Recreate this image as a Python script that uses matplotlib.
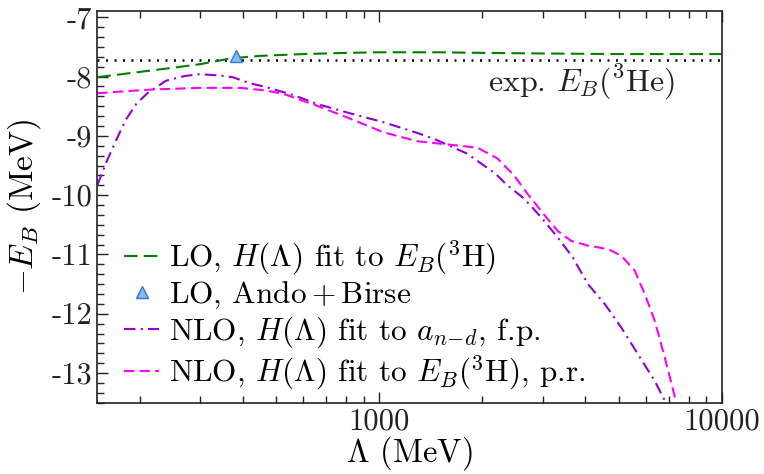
import numpy as np
import matplotlib
matplotlib.use("Agg")
import matplotlib.pyplot as plt
from matplotlib.ticker import FixedLocator, FixedFormatter, MultipleLocator, NullFormatter, LogLocator

plt.rcParams['font.family'] = 'cmr10'
plt.rcParams['mathtext.fontset'] = 'cm'
plt.rcParams['axes.unicode_minus'] = False
plt.rcParams['axes.formatter.use_mathtext'] = True

# ---- data ----
exp_he3 = -7.718

lam_lo = [150, 200, 250, 300, 370, 450, 600, 800, 1000, 1500, 2000, 3000, 5000, 7000, 10000]
eb_lo = [-8.01, -7.92, -7.85, -7.79, -7.69, -7.65, -7.62, -7.60, -7.59, -7.59, -7.60, -7.61, -7.62, -7.62, -7.62]

lam_ab = [380]
eb_ab = [-7.65]

lam_fp = [150, 160, 170, 182, 195, 210, 238, 270, 298, 340, 373, 418, 468, 560, 657, 822,
          1029, 1290, 1444, 1806, 2187, 2340, 2650, 2966, 3316, 3673, 4066, 4548, 5087, 5693,
          6368, 6815, 7100]
eb_fp = [-9.83, -9.42, -9.08, -8.72, -8.46, -8.28, -8.07, -7.99, -7.96, -7.98, -8.01, -8.11,
         -8.18, -8.31, -8.46, -8.62, -8.77, -8.95, -9.05, -9.30, -9.64, -9.81, -10.06, -10.37,
         -10.71, -11.05, -11.50, -11.83, -12.23, -12.68, -13.13, -13.46, -13.7]

lam_pr = [150, 213, 298, 391, 460, 524, 657, 822, 1029, 1290, 1615, 1935, 2213, 2477, 2711,
          3100, 3316, 3630, 4066, 4662, 5087, 5568, 5955, 6368, 6815, 7305, 7500]
eb_pr = [-8.28, -8.22, -8.19, -8.19, -8.23, -8.29, -8.49, -8.71, -8.94, -9.09, -9.15, -9.20,
         -9.38, -9.67, -9.98, -10.40, -10.60, -10.77, -10.85, -10.91, -11.02, -11.27, -11.66,
         -12.11, -12.73, -13.41, -13.7]

fig = plt.figure(figsize=(7.64, 4.74), dpi=100)
ax = fig.add_axes([0.1274, 0.1504, 0.8172, 0.8256])
ax.set_xscale('log')

# experimental 3He line
ax.axhline(exp_he3, color='black', lw=1.8, dashes=(0.8, 2.6))

ax.plot(lam_lo, eb_lo, color='#008000', lw=1.5, dashes=(6.5, 3.0),
        label=r'LO, $H(\Lambda)$ fit to $E_B(^3\mathrm{H})$')
ax.plot(lam_ab, eb_ab, ls='none', marker='^', ms=8, mfc='#8cb8ea', mec='#2a7be0', mew=1.0,
        label=r'LO, $\mathrm{Ando+Birse}$')
ax.plot(lam_fp, eb_fp, color='#9400d3', lw=1.5, dashes=(5.5, 2.5, 1.0, 2.5),
        label=r'NLO, $H(\Lambda)$ fit to $a_{n\!-\!d}$, f.p.')
ax.plot(lam_pr, eb_pr, color='#ff00ff', lw=1.5, dashes=(5.0, 2.5),
        label=r'NLO, $H(\Lambda)$ fit to $E_B(^3\mathrm{H})$, p.r.')

ax.text(3900, -8.1, r'exp. $E_B(^3\mathrm{He})$', fontsize=23, ha='center', va='center',
        color='#222222')

ax.set_xlim(150, 10000)
ax.set_ylim(-13.5, -6.9)

ax.xaxis.set_major_locator(FixedLocator([1000, 10000]))
ax.xaxis.set_major_formatter(FixedFormatter(['1000', '10000']))
ax.xaxis.set_minor_locator(LogLocator(base=10, subs=np.arange(2, 10)))
ax.xaxis.set_minor_formatter(NullFormatter())
ax.yaxis.set_major_locator(MultipleLocator(1))
ax.yaxis.set_minor_locator(MultipleLocator(1 / 6))
ax.yaxis.set_major_formatter(plt.FuncFormatter(lambda v, p: '%d' % round(v)))

ax.tick_params(which='both', direction='in', top=True, right=False, labelsize=22, width=1.0,
               colors='#222222')
ax.tick_params(which='major', length=8)
ax.tick_params(which='minor', length=5)
for s in ax.spines.values():
    s.set_linewidth(1.2)
    s.set_color('#222222')

ax.set_xlabel(r'$\Lambda$ (MeV)', fontsize=23.5, labelpad=-1)
ax.set_ylabel(r'$-E_B$ (MeV)', fontsize=24, labelpad=6)

ax.legend(loc='upper left', bbox_to_anchor=(0.042, 0.42), frameon=False, fontsize=22.5,
          handlelength=1.15, handletextpad=0.3, labelspacing=0.1, borderpad=0,
          borderaxespad=0, numpoints=1)

fig.savefig('out.png', dpi=100)
